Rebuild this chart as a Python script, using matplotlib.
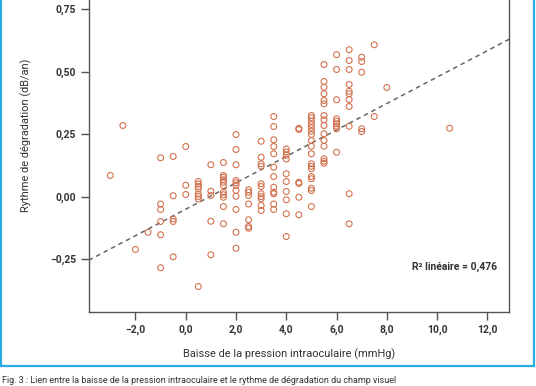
import numpy as np
import matplotlib.pyplot as plt
from matplotlib.lines import Line2D

# Baisse de PIO (mmHg) : les points sont alignés sur des pas de 0,5
x_cols = [-3.0, -2.5, -2.0, -1.5, -1.0, -0.5, 0.0, 0.5, 1.0, 1.5, 2.0, 2.5, 3.0,
          3.5, 4.0, 4.5, 5.0, 5.5, 6.0, 6.5, 7.0, 7.5, 8.0, 10.5]

# Rythme de dégradation (dB/an) pour chaque colonne
y_cols = [
    [0.084],
    [0.284],
    [-0.212],
    [-0.143],
    [0.155, -0.03, -0.052, -0.10, -0.153, -0.285],
    [0.16, 0.003, -0.09, -0.10, -0.241],
    [0.20, 0.045, 0.008],
    [0.06, 0.05, 0.04, 0.03, 0.01, 0.0, -0.01, -0.36],
    [0.127, 0.021, 0.004, -0.099, -0.233],
    [0.136, 0.084, 0.077, 0.067, 0.057, 0.044, 0.017, 0.007, -0.003, -0.04, -0.109],
    [0.248, 0.188, 0.127, 0.064, 0.055, 0.045, 0.024, 0.001, -0.052, -0.143, -0.207],
    [0.027, 0.017, 0.004, -0.03, -0.093, -0.12, -0.127],
    [0.221, 0.157, 0.131, 0.121, 0.051, 0.04, 0.011, 0.0, -0.009, -0.036, -0.056],
    [0.32, 0.28, 0.227, 0.2, 0.171, 0.117, 0.08, 0.037, 0.017, 0.011, -0.03, -0.052],
    [0.19, 0.178, 0.165, 0.15, 0.091, 0.06, 0.02, -0.013, -0.069, -0.16],
    [0.273, 0.268, 0.057, 0.052, -0.003, -0.073],
    [0.324, 0.315, 0.301, 0.288, 0.275, 0.261, 0.248, 0.224, 0.201, 0.171,
     0.131, 0.121, 0.111, 0.08, 0.071, 0.033, 0.024, -0.04],
    [0.528, 0.46, 0.437, 0.411, 0.384, 0.371, 0.324, 0.307, 0.284, 0.251,
     0.224, 0.201, 0.151, 0.141, 0.133],
    [0.567, 0.508, 0.387, 0.311, 0.301, 0.291, 0.281, 0.271, 0.177],
    [0.587, 0.544, 0.508, 0.448, 0.421, 0.411, 0.388, 0.36, 0.281, 0.011, -0.109],
    [0.557, 0.54, 0.497, 0.271, 0.26],
    [0.607, 0.32],
    [0.436],
    [0.273],
]

x_ticks = [-2, 0, 2, 4, 6, 8, 10, 12]
y_ticks = [-0.25, 0.0, 0.25, 0.50, 0.75]
r2_label = "R² linéaire = 0,476"

x = np.concatenate([[xc] * len(yc) for xc, yc in zip(x_cols, y_cols)])
y = np.concatenate(y_cols)
slope, intercept = np.polyfit(x, y, 1)

plt.rcParams['font.family'] = ['Roboto', 'DejaVu Sans']

fig = plt.figure(figsize=(5.36, 3.86), dpi=100)
ax = fig.add_axes([88.7 / 536, 1 - 312 / 386, (509 - 88.7) / 536, 312 / 386])

xlim = (-3.86, 12.86)
ax.set_xlim(*xlim)
ax.set_ylim(-0.462, 0.786)

# Droite de régression
xl = np.array(xlim)
ax.plot(xl, intercept + slope * xl, color='#666666', lw=1.1, ls=(0, (3, 2.5)), zorder=2)

ax.scatter(x, y, s=18, facecolors='none', edgecolors='#D2724E', linewidths=0.8, zorder=3)

ax.set_xticks(x_ticks)
ax.set_xticklabels([("%.1f" % v).replace('.', ',').replace('-', '\u2212') for v in x_ticks])
ax.set_yticks(y_ticks)
ax.set_yticklabels([("%.2f" % v).replace('.', ',').replace('-', '\u2212') for v in y_ticks])
for lab in ax.get_xticklabels() + ax.get_yticklabels():
    lab.set_fontweight('bold')
    lab.set_fontsize(7.5)
    lab.set_color('#333333')
ax.tick_params(axis='both', length=6, width=1, color='#555555', pad=3)

for side in ['left', 'bottom', 'right']:
    ax.spines[side].set_color('#555555')
    ax.spines[side].set_linewidth(1)
ax.spines['top'].set_visible(False)

ax.set_xlabel("Baisse de la pression intraoculaire (mmHg)", fontsize=7.9, color='#333333')
ax.xaxis.set_label_coords((289 - 88.7) / (509 - 88.7), -36 / 312)
ax.set_ylabel("Rythme de dégradation (dB/an)", fontsize=7.9, color='#333333')
ax.yaxis.set_label_coords(-(88.7 - 32) / (509 - 88.7), (312 - 135) / 312)

ax.text((497 - 88.7) / (509 - 88.7), (312 - 267) / 312, r2_label, transform=ax.transAxes,
        ha='right', va='center', fontsize=7.5, fontweight='bold', color='#333333')

# Cadre bleu autour de la figure
frame = '#2AAAE2'
fig.add_artist(Line2D([1 / 536, 1 / 536], [1 - 366 / 386, 1], color=frame, lw=1.6))
fig.add_artist(Line2D([534 / 536, 534 / 536], [1 - 366 / 386, 1], color=frame, lw=1.6))
fig.add_artist(Line2D([1 / 536, 534 / 536], [1 - 366 / 386, 1 - 366 / 386], color=frame, lw=1.6))

# Légende de la figure, en bas
fig.text(2 / 536, 1 - 376 / 386,
         "Fig. 3 : Lien entre la baisse de la pression intraoculaire et le rythme de dégradation du champ visuel",
         fontsize=6.5, va='top', ha='left', color='#333333')

fig.savefig("out.png", dpi=100)
